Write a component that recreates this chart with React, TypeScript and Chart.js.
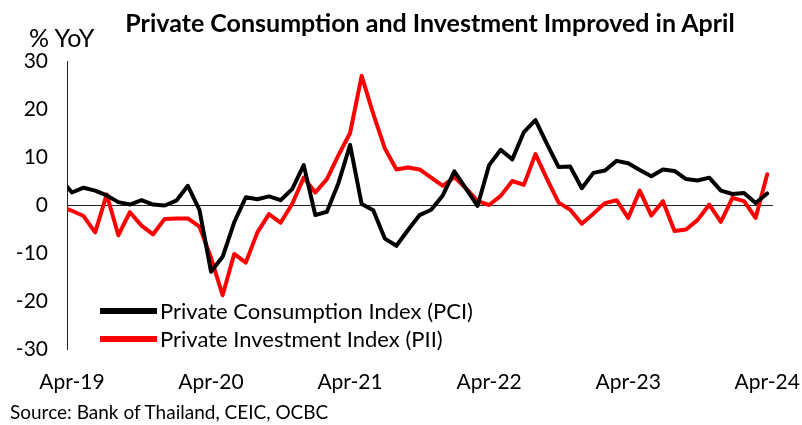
import React, { useEffect, useRef } from "react";
import { Chart, registerables } from "chart.js";

Chart.register(...registerables);

// Monthly categories (Mar-19 is only partially visible at the left edge)
const months = [
  "Mar-19",
  "Apr-19", "May-19", "Jun-19", "Jul-19", "Aug-19", "Sep-19", "Oct-19", "Nov-19", "Dec-19",
  "Jan-20", "Feb-20", "Mar-20", "Apr-20", "May-20", "Jun-20", "Jul-20", "Aug-20", "Sep-20", "Oct-20", "Nov-20", "Dec-20",
  "Jan-21", "Feb-21", "Mar-21", "Apr-21", "May-21", "Jun-21", "Jul-21", "Aug-21", "Sep-21", "Oct-21", "Nov-21", "Dec-21",
  "Jan-22", "Feb-22", "Mar-22", "Apr-22", "May-22", "Jun-22", "Jul-22", "Aug-22", "Sep-22", "Oct-22", "Nov-22", "Dec-22",
  "Jan-23", "Feb-23", "Mar-23", "Apr-23", "May-23", "Jun-23", "Jul-23", "Aug-23", "Sep-23", "Oct-23", "Nov-23", "Dec-23",
  "Jan-24", "Feb-24", "Mar-24", "Apr-24",
];

// Private Consumption Index (PCI), % YoY
const pci = [
  5.5,
  2.6, 3.6, 3.0, 2.0, 0.6, 0.1, 1.0, 0.1, -0.1,
  0.9, 4.0, -1.0, -13.9, -10.8, -3.6, 1.6, 1.2, 1.8, 1.0, 3.3, 8.3,
  -2.1, -1.4, 4.6, 12.5, 0.2, -1.1, -7.0, -8.5, -5.2, -2.1, -1.0, 2.0,
  7.0, 3.4, -0.2, 8.3, 11.5, 9.5, 15.2, 17.7, 12.7, 7.9, 8.0, 3.5,
  6.7, 7.2, 9.2, 8.7, 7.3, 6.0, 7.4, 7.1, 5.4, 5.1, 5.7, 3.0,
  2.3, 2.5, 0.4, 2.4,
];

// Private Investment Index (PII), % YoY
const pii = [
  -0.3,
  -1.2, -2.3, -5.7, 2.2, -6.3, -1.5, -4.3, -6.1, -2.9,
  -2.8, -2.8, -4.5, -11.0, -18.8, -10.2, -12.0, -5.7, -1.9, -3.7, 0.2, 5.7,
  2.6, 5.4, 10.4, 15.0, 26.9, 19.0, 11.8, 7.4, 7.8, 7.4, 5.7, 4.0,
  5.8, 3.5, 0.8, 0.0, 1.9, 5.0, 4.2, 10.6, 5.4, 0.5, -1.0, -3.9,
  -1.8, 0.4, 1.0, -2.7, 3.0, -2.2, 0.8, -5.4, -5.1, -3.1, 0.1, -3.5,
  1.5, 0.8, -2.7, 6.4,
];

const xTickLabels = ["Apr-19", "Apr-20", "Apr-21", "Apr-22", "Apr-23", "Apr-24"];
const yTickValues = [-30, -20, -10, 0, 10, 20, 30];

const seriesNames = ["Private Consumption Index (PCI)", "Private Investment Index (PII)"];
const seriesColors = ["#000000", "#ff0000"];

const FONT = "Lato, 'Open Sans', sans-serif";

export default function App() {
  const ref = useRef<HTMLCanvasElement | null>(null);

  useEffect(() => {
    if (!ref.current) return;
    const base = months.indexOf("Apr-19");
    const toPts = (arr: number[]) => arr.map((v, i) => ({ x: i - base, y: v }));
    const tickPos = xTickLabels.map((l) => months.indexOf(l) - base);
    const labelAt = (v: number) => {
      const k = tickPos.indexOf(Math.round(v));
      return k >= 0 ? xTickLabels[k] : "";
    };

    const chart = new Chart(ref.current, {
      type: "line",
      data: {
        datasets: [
          {
            label: seriesNames[0],
            data: toPts(pci),
            borderColor: seriesColors[0],
            backgroundColor: seriesColors[0],
            borderWidth: 4,
            pointRadius: 0,
            tension: 0,
            clip: 0,
            borderJoinStyle: "round",
            borderCapStyle: "round",
          },
          {
            label: seriesNames[1],
            data: toPts(pii),
            borderColor: seriesColors[1],
            backgroundColor: seriesColors[1],
            borderWidth: 4,
            pointRadius: 0,
            tension: 0,
            clip: 0,
            borderJoinStyle: "round",
            borderCapStyle: "round",
          },
        ],
      },
      options: {
        animation: false,
        responsive: false,
        maintainAspectRatio: false,
        layout: { padding: { top: 61, right: 29, bottom: 0, left: 0 }, autoPadding: false },
        plugins: {
          legend: { display: false },
          tooltip: { enabled: false },
          title: { display: false },
        },
        scales: {
          x: {
            type: "linear",
            min: -0.43,
            max: 60.5,
            grid: { display: false, drawTicks: false },
            border: { display: false },
            afterBuildTicks: (s: any) => {
              s.ticks = tickPos.map((v) => ({ value: v }));
            },
            afterFit: (s: any) => {
              s.height = 76;
              s.paddingLeft = 0;
              s.paddingRight = 0;
            },
            ticks: {
              autoSkip: false,
              maxRotation: 0,
              minRotation: 0,
              padding: 21,
              color: "#000",
              font: { family: FONT, size: 21 },
              callback: (v: any) => labelAt(Number(v)),
            },
          },
          y: {
            min: -30,
            max: 30,
            afterBuildTicks: (s: any) => {
              s.ticks = yTickValues.map((v) => ({ value: v }));
            },
            afterFit: (s: any) => {
              s.width = 67;
              s.paddingTop = 0;
              s.paddingBottom = 0;
            },
            grid: {
              drawTicks: false,
              lineWidth: 1,
              color: (ctx: any) => (ctx.tick && ctx.tick.value === 0 ? "#222" : "rgba(0,0,0,0)"),
            },
            border: { display: true, color: "#222", width: 1 },
            ticks: {
              padding: 19,
              color: "#000",
              font: { family: FONT, size: 21 },
            },
          },
        },
      },
    } as any);
    return () => chart.destroy();
  }, []);

  const text: React.CSSProperties = {
    position: "absolute",
    fontFamily: FONT,
    color: "#000",
    whiteSpace: "nowrap",
    lineHeight: 1,
  };

  return (
    <div style={{ position: "fixed", left: 0, top: 0, width: 802, height: 425, background: "#fff" }}>
      <canvas ref={ref} width={802} height={425} style={{ position: "absolute", left: 0, top: 0, width: 802, height: 425 }} />
      <div style={{ ...text, left: 430, top: 10, transform: "translateX(-50%)", fontWeight: 700, fontSize: 25 }}>
        Private Consumption and Investment Improved in April
      </div>
      <div style={{ ...text, left: 29, top: 25, fontSize: 25 }}>% YoY</div>
      <div style={{ ...text, left: 10, top: 402, fontSize: 19 }}>Source: Bank of Thailand, CEIC, OCBC</div>
      {seriesNames.map((name, i) => (
        <div key={name} style={{ position: "absolute", left: 100, top: 300 + i * 28, height: 22, width: 420 }}>
          <div style={{ position: "absolute", left: 0, top: 8, width: 57, height: 6, background: seriesColors[i] }} />
          <div style={{ ...text, left: 60, top: 0, fontSize: 22 }}>{name}</div>
        </div>
      ))}
    </div>
  );
}
